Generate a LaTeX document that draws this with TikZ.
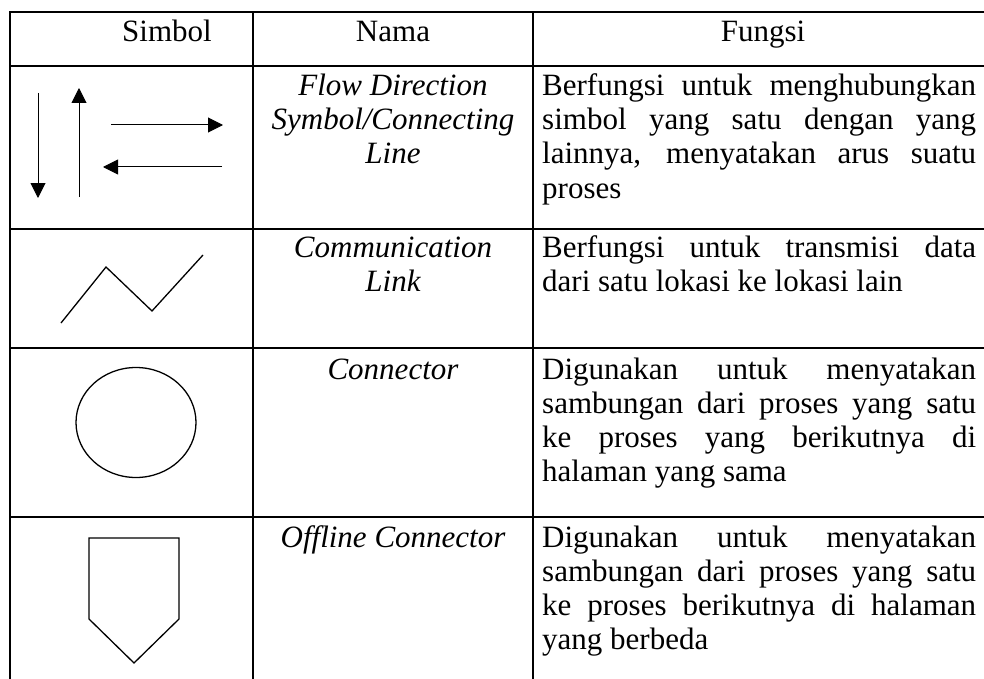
\documentclass[tikz,border=0pt]{standalone}
\usepackage{fontspec}
\setmainfont{Liberation Serif}
\usetikzlibrary{arrows.meta}
\tikzset{
  rule/.style={line width=1.8pt, line cap=rect},
  sym/.style={line width=1.3pt, line join=miter},
  arr/.style={line width=1pt, -{Triangle[length=15pt,width=15pt]}},
  cell/.style={inner sep=0pt, font=\fontsize{31}{35}\selectfont, anchor=base},
  fline/.style={cell, anchor=base west},
  nline/.style={cell, font=\fontsize{31}{35}\selectfont\itshape},
}
\newcommand{\jline}[1]{\makebox[434pt][s]{#1}}
\begin{document}
\begin{tikzpicture}[x=1pt,y=-1pt]
\useasboundingbox (0,0) rectangle (984,679);
% table rules
\foreach \yy in {12,66,229,348,517}{
  \draw[rule] (10,\yy) -- (984,\yy);
}
\foreach \xx in {10,253,533}{
  \draw[rule] (\xx,12) -- (\xx,679);
}
% header
\node[cell] (hsim) at (167,42) {Simbol};
\node[cell] (hnam) at (393,42) {Nama};
\node[cell] (hfun) at (763,42) {Fungsi};
% row 1 symbol: arrows
\coordinate (d1) at (38,93);  \coordinate (d2) at (38,198);
\coordinate (u1) at (79,197); \coordinate (u2) at (79,88);
\coordinate (r1) at (111,125); \coordinate (r2) at (223,125);
\coordinate (l1) at (222,167); \coordinate (l2) at (103,167);
\draw[arr] (d1) -- (d2);
\draw[arr] (u1) -- (u2);
\draw[arr] (r1) -- (r2);
\draw[arr] (l1) -- (l2);
% row 2 symbol: zigzag
\draw[sym] (61,323) -- (106,267) -- (152,311) -- (203,255);
% row 3 symbol: circle
\draw[sym] (136,422.5) ellipse [x radius=60, y radius=55];
% row 4 symbol: offpage connector
\draw[sym] (89,538) -- (179,538) -- (179,619) -- (134,663) -- (89,619) -- cycle;
% Nama column
\node[nline] (n1a) at (393,96) {Flow Direction};
\node[nline] (n1b) at (393,130) {Symbol/Connecting};
\node[nline] (n1c) at (393,164) {Line};
\node[nline] (n2a) at (393,257) {Communication};
\node[nline] (n2b) at (393,291) {Link};
\node[nline] (n3a) at (393,379) {Connector};
\node[nline] (n4a) at (393,547) {Offline Connector};
% Fungsi column
\node[fline] (f1a) at (542,96) {\jline{Berfungsi untuk menghubungkan}};
\node[fline] (f1b) at (542,130) {\jline{simbol yang satu dengan yang}};
\node[fline] (f1c) at (542,164) {\jline{lainnya, menyatakan arus suatu}};
\node[fline] (f1d) at (542,198) {proses};
\node[fline] (f2a) at (542,257) {\jline{Berfungsi untuk transmisi data}};
\node[fline] (f2b) at (542,291) {dari satu lokasi ke lokasi lain};
\node[fline] (f3a) at (542,379) {\jline{Digunakan untuk menyatakan}};
\node[fline] (f3b) at (542,413) {\jline{sambungan dari proses yang satu}};
\node[fline] (f3c) at (542,447) {\jline{ke proses yang berikutnya di}};
\node[fline] (f3d) at (542,481) {halaman yang sama};
\node[fline] (f4a) at (542,547) {\jline{Digunakan untuk menyatakan}};
\node[fline] (f4b) at (542,581) {\jline{sambungan dari proses yang satu}};
\node[fline] (f4c) at (542,615) {\jline{ke proses berikutnya di halaman}};
\node[fline] (f4d) at (542,649) {yang berbeda};
\end{tikzpicture}
\end{document}
